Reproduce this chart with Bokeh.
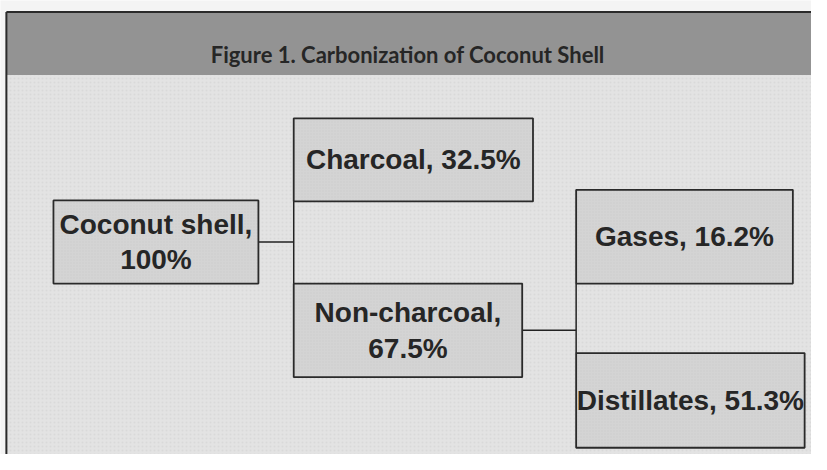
from bokeh.plotting import figure
from bokeh.models import Range1d, ColumnDataSource
from bokeh.core.properties import value
from bokeh.embed import file_html
from bokeh.resources import INLINE

# ---- data ----
title_text = "Figure 1.  Carbonization of Coconut Shell"
nodes = ["Coconut shell", "Charcoal", "Non-charcoal", "Gases", "Distillates"]
shares = [100, 32.5, 67.5, 16.2, 51.3]
wrap = [True, False, True, False, False]
# parent index -> children indices
tree = [(0, [1, 2]), (2, [3, 4])]

# ---- layout (reference pixel coordinates, 827 x 470 canvas) ----
box_left = [54, 299, 299, 587, 587]
box_right = [263, 543, 532, 808, 820]
box_top = [207, 122, 293, 196, 365]
box_bottom = [293, 208, 390, 293, 463]

W, H = 811, 454
p = figure(width=W, height=H, output_backend="svg", toolbar_location=None,
           x_range=Range1d(0, 827), y_range=Range1d(470, 0),
           min_border=0, outline_line_color=None)
p.axis.visible = False
p.grid.visible = False
p.background_fill_color = "#f4f4f4"
p.border_fill_color = "#f4f4f4"

# panel body and header band
p.quad(left=[6], right=[840], top=[77], bottom=[480], fill_color="#e3e3e3",
       line_color=None, hatch_pattern="dot", hatch_color="#d2d2d2", hatch_scale=4, hatch_alpha=0.6)
p.quad(left=[6], right=[840], top=[12], bottom=[77], fill_color="#939393", line_color=None)
p.segment(x0=[6, 6], y0=[12, 12], x1=[840, 6], y1=[12, 480], line_color="#2a2a2a", line_width=2)
p.text(x=[418], y=[56], text=[title_text], text_align="center", text_baseline="middle",
       text_font=value("Lato"), text_font_style="bold",
       text_font_size="22px", text_color="#262626")

# connectors
x0, y0, x1, y1 = [], [], [], []
for parent, kids in tree:
    cy = (box_top[parent] + box_bottom[parent]) / 2
    jx = box_left[kids[0]]
    x0.append(box_right[parent]); y0.append(cy); x1.append(jx); y1.append(cy)
    x0.append(jx); y0.append(box_bottom[kids[0]]); x1.append(jx); y1.append(box_top[kids[1]])
p.segment(x0=x0, y0=y0, x1=x1, y1=y1, line_color="#222222", line_width=1.5)

# boxes
labels = []
for n, s, w in zip(nodes, shares, wrap):
    pct = (f"{s:g}%")
    labels.append(f"{n},\n{pct}" if w else f"{n}, {pct}")
src = ColumnDataSource(dict(
    left=box_left, right=box_right, top=box_top, bottom=box_bottom,
    cx=[(a + b) / 2 for a, b in zip(box_left, box_right)],
    cy=[(a + b) / 2 for a, b in zip(box_top, box_bottom)],
    label=labels))
p.quad(left="left", right="right", top="top", bottom="bottom", source=src,
       fill_color="#d4d4d4", line_color="#2a2a2a", line_width=1.8,
       hatch_pattern="dot", hatch_color="#c4c4c4", hatch_scale=3, hatch_alpha=0.6)
p.text(x="cx", y="cy", text="label", source=src, text_align="center", text_baseline="middle",
       text_font=value("Liberation Sans"), text_font_style="bold", text_font_size="28px",
       text_color="#262626", text_line_height=1.15)

open("out.html", "w").write(file_html(p, INLINE))
